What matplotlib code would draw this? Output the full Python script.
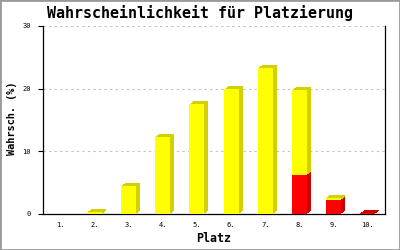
import matplotlib
matplotlib.use("Agg")
import matplotlib.pyplot as plt
import matplotlib.transforms as mtransforms
from matplotlib.patches import Rectangle

categories = ["1.", "2.", "3.", "4.", "5.", "6.", "7.", "8.", "9.", "10."]
red_vals = [0, 0, 0, 0, 0, 0, 0, 6.2, 2.2, 0.15]
yellow_vals = [0, 0.3, 4.5, 12.3, 17.5, 19.9, 23.3, 13.6, 0.4, 0]
yticks = [0, 10, 20, 30]

title = "Wahrscheinlichkeit für Platzierung"
xlabel = "Platz"
ylabel = "Wahrsch. (%)"

mono = "DejaVu Sans Mono"

fig = plt.figure(figsize=(4, 2.5), dpi=100)
ax = fig.add_axes([43/400, 36/250, 342/400, 188/250])

x = list(range(len(categories)))
width = 0.44

YEL, YEL_D = "#ffff00", "#d2d000"
RED, RED_D = "#ff0000", "#cc0000"

# 3D shadow layers (side + top faces)
for k in range(4, 0, -1):
    off = mtransforms.ScaledTranslation(k / 100, 0.75 * k / 100, fig.dpi_scale_trans)
    tr = ax.transData + off
    b1 = ax.bar(x, red_vals, width, color=RED_D, linewidth=0, zorder=2)
    b2 = ax.bar(x, yellow_vals, width, bottom=red_vals, color=YEL_D, linewidth=0, zorder=2)
    for p in list(b1) + list(b2):
        p.set_transform(tr)

# front faces
ax.bar(x, red_vals, width, color=RED, linewidth=0, zorder=3)
ax.bar(x, yellow_vals, width, bottom=red_vals, color=YEL, linewidth=0, zorder=3)

ax.set_xlim(-0.5, len(categories) - 0.5)
ax.set_ylim(0, 30)
ax.set_yticks(yticks)
ax.set_yticklabels([str(t) for t in yticks], fontfamily=mono, fontsize=5)
ax.set_xticks(x)
ax.set_xticklabels(categories, fontfamily=mono, fontsize=5)
ax.tick_params(axis="x", length=0, pad=6)
ax.tick_params(axis="y", length=3.6, width=0.8, pad=5)

for yv in yticks[1:]:
    ax.axhline(yv, color="#c0c0c0", linewidth=0.8, linestyle=(0, (2, 3)), zorder=1)

ax.spines["top"].set_visible(False)
for s in ["left", "bottom", "right"]:
    ax.spines[s].set_linewidth(0.9)
    ax.spines[s].set_color("black")

fig.text(0.5, 1 - 13/250, title, fontfamily=mono, fontweight="bold",
         fontsize=10.8, ha="center", va="center")
fig.text(214/400, 11/250, xlabel, fontfamily=mono, fontweight="bold",
         fontsize=8.4, ha="center", va="center")
fig.text(12/400, 1 - 118/250, ylabel, fontfamily=mono, fontweight="bold",
         fontsize=7.4, ha="center", va="center", rotation=90)

fig.patches.append(Rectangle((0, 0), 1, 1, transform=fig.transFigure, fill=False,
                             edgecolor="#9a9a9a", linewidth=2.0))

fig.savefig("out.png", dpi=100)
